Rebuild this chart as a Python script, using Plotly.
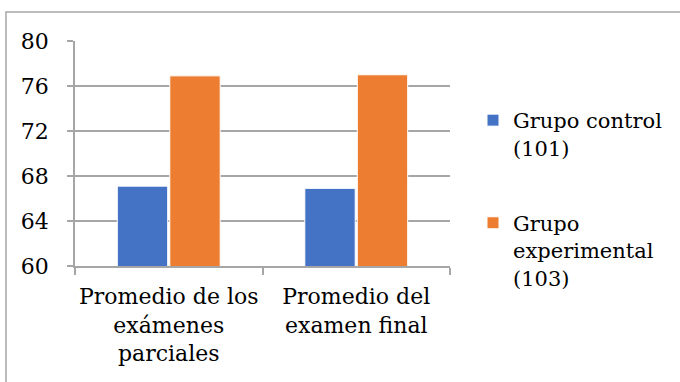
import plotly.graph_objects as go

categories = ["Promedio de los<br>exámenes<br>parciales", "Promedio del<br>examen final"]
series_names = ["Grupo control<br>(101)", "Grupo<br>experimental<br>(103)"]
control_values = [67.1, 66.9]
experimental_values = [76.9, 77.0]
y_ticks = [60, 64, 68, 72, 76, 80]

colors = ["#4472C4", "#ED7D31"]
FONT = "DejaVu Serif"
FS = 21

fig = go.Figure()
for i, (name, vals) in enumerate(zip(series_names, [control_values, experimental_values])):
    fig.add_trace(go.Bar(
        x=categories, y=vals, name=name, legendgroup=f"g{i}",
        marker=dict(color=colors[i], line=dict(color="white", width=1)),
    ))

L, R, T, B = 75, 230, 41, 116
pw, ph = 680 - L - R, 382 - T - B

fig.update_layout(
    width=680, height=382,
    margin=dict(l=L, r=R, t=T, b=B, pad=0, autoexpand=False),
    paper_bgcolor="white", plot_bgcolor="white",
    font=dict(family=FONT, size=FS, color="black"),
    barmode="group", bargap=0.44, bargroupgap=0.04,
    showlegend=True,
    legend=dict(
        xref="container", yref="container",
        x=473 / 680, y=1 - 100 / 382, xanchor="left", yanchor="top",
        valign="top", tracegroupgap=45, itemwidth=30, maxheight=370,
        font=dict(family=FONT, size=FS, color="black"),
        bgcolor="rgba(0,0,0,0)",
    ),
    xaxis=dict(
        automargin=False, tickangle=0,
        showgrid=False, showline=True, linecolor="#a6a6a6", linewidth=1.5,
        ticks="outside", tickson="boundaries", ticklen=7, tickcolor="#a6a6a6", tickwidth=1.5,
        ticklabelstandoff=10,
        tickfont=dict(family=FONT, size=22, color="black"),
    ),
    yaxis=dict(
        automargin=False,
        range=[60, 80], tickvals=y_ticks, showgrid=True, gridcolor="#a6a6a6", gridwidth=1.5,
        showline=True, linecolor="#a6a6a6", linewidth=1.5,
        ticks="outside", ticklen=6, tickcolor="#a6a6a6", tickwidth=1.5,
        ticklabelstandoff=14, zeroline=False,
        tickfont=dict(family=FONT, size=22, color="black"),
    ),
    shapes=[dict(
        type="rect", xref="paper", yref="paper",
        x0=(6 - L) / pw, x1=(700 - L) / pw,
        y0=1 - (400 - T) / ph, y1=1 + (T - 12) / ph,
        line=dict(color="#a6a6a6", width=1.5), fillcolor="rgba(0,0,0,0)", layer="below",
    )],
)

fig.write_html("out.html")
